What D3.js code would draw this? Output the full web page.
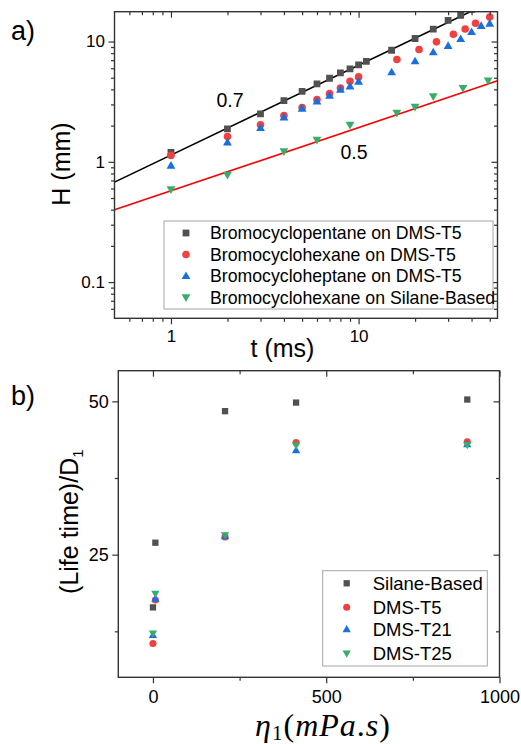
<!DOCTYPE html>
<html>
<head>
<meta charset="utf-8">
<script src="https://cdn.jsdelivr.net/npm/d3@7"></script>
<style>
    body { margin: 0; background: #fff; }
    svg { display: block; font-family: "Liberation Sans", Arial, sans-serif; }
    .axis path { display: none; }
    .axis line { stroke: #333; stroke-width: 1.2; }
    .axis text { fill: #000; }
</style>
</head>
<body>
<div id="chart"></div>
<script>

// ---- panel a) : H vs t (log-log) ----
var seriesNamesA = ["Bromocyclopentane on DMS-T5", "Bromocyclohexane on DMS-T5",
    "Bromocycloheptane on DMS-T5", "Bromocyclohexane on Silane-Based"];

var pentaneT5 = [[1,1.20],[2,1.88],[3,2.50],[4,3.22],[5,3.85],[6,4.44],[7,4.95],[8,5.48],[9,5.92],
    [10,6.39],[11,6.85],[15,8.46],[20,10.6],[25,12.7],[30,15.0],[35,16.5],[40,18.5]];
var hexaneT5 = [[1,1.13],[2,1.62],[3,2.03],[4,2.43],[5,2.83],[6,3.29],[7,3.69],[8,4.11],[9,4.67],
    [10,5.08],[16,7.08],[21,8.58],[26,9.94],[32,11.5],[37,12.7],[42,14.2],[50,16.0]];
var heptaneT5 = [[1,0.93],[2,1.45],[3,1.91],[4,2.34],[5,2.77],[6,3.18],[7,3.55],[8,3.98],[9,4.24],
    [10,4.64],[15,5.55],[20,6.85],[25,8.14],[30,9.21],[35,10.5],[40,12.0],[45,13.5],[50,14.1]];
var hexaneSilane = [[1,0.59],[2,0.78],[4,1.22],[6,1.52],[9,2.03],[16,2.55],[20,2.86],[25,3.50],
    [36,4.11],[49,4.73]];

// fitted power laws, drawn between two end points
var fitSlope07 = [[0.5,0.678],[55,22.7]];
var fitSlope05 = [[0.5,0.399],[55,4.71]];
var fitLabels = ["0.7", "0.5"];

var tDomain = [0.5, 55];
var hDomain = [0.05, 17.7];
var tMajor = [1, 10];
var tMinor = [0.6,0.7,0.8,0.9,2,3,4,5,6,7,8,9,20,30,40,50];
var hMajor = [0.1, 1, 10];
var hMinor = [0.06,0.07,0.08,0.09,0.2,0.3,0.4,0.5,0.6,0.7,0.8,0.9,2,3,4,5,6,7,8,9];

// ---- panel b) : lifetime vs viscosity ----
var seriesNamesB = ["Silane-Based", "DMS-T5", "DMS-T21", "DMS-T25"];
var silaneB = [[7,26.95],[0,16.4],[208,48.4],[413,49.8],[907,50.3]];
var dmsT5 = [[0,10.5],[7,17.6],[208,27.9],[413,43.3],[907,43.4]];
var dmsT21 = [[0,11.9],[7,17.8],[208,28.0],[413,42.0],[907,43.0]];
var dmsT25 = [[0,12.15],[7,18.65],[208,28.2],[413,42.8],[907,42.9]];

var etaDomain = [-100, 1000];
var lifeDomain = [5, 55];
var etaMajor = [0, 500, 1000];
var etaMinor = [250, 750];
var lifeMajor = [25, 50];
var lifeMinor = [12.5, 37.5];

var colors = ["#515151", "#f14040", "#1a6fdf", "#37ad6b"];
var shapes = ["square", "circle", "up", "down"];

var svg = d3.select("#chart").append("svg")
    .attr("width", 521)
    .attr("height", 744);

// marker path centred on 0,0
function markerPath(shape, s) {
    if (shape === "square") return "M" + (-s/2) + "," + (-s/2) + "h" + s + "v" + s + "h" + (-s) + "Z";
    if (shape === "circle") { var r = s/2 + 0.4; return d3.symbol(d3.symbolCircle, Math.PI*r*r)(); }
    var w = s + 2, h = w * 0.87;
    if (shape === "up") return "M0," + (-h*0.6) + "L" + (w/2) + "," + (h*0.4) + "L" + (-w/2) + "," + (h*0.4) + "Z";
    return "M0," + (h*0.6) + "L" + (w/2) + "," + (-h*0.4) + "L" + (-w/2) + "," + (-h*0.4) + "Z";
}

function drawFrame(g, x, y, xMajor, xMinor, yMajor, yMinor, width, height, xFmt, yFmt, fs, xPad, yPad) {
    // bottom / left: outward ticks with labels
    g.append("g").attr("class", "axis").attr("transform", "translate(0," + height + ")")
        .call(d3.axisBottom(x).tickValues(xMajor).tickSize(6).tickPadding(xPad).tickFormat(xFmt))
        .selectAll("text").style("font-size", fs + "px").style("font-family", "Liberation Sans");
    g.append("g").attr("class", "axis").attr("transform", "translate(0," + height + ")")
        .call(d3.axisBottom(x).tickValues(xMinor).tickSize(3.5).tickFormat(""));
    g.append("g").attr("class", "axis")
        .call(d3.axisLeft(y).tickValues(yMajor).tickSize(6).tickPadding(yPad).tickFormat(yFmt))
        .selectAll("text").style("font-size", fs + "px").style("font-family", "Liberation Sans");
    g.append("g").attr("class", "axis")
        .call(d3.axisLeft(y).tickValues(yMinor).tickSize(3.5).tickFormat(""));
    // top / right: mirrored, inward
    g.append("g").attr("class", "axis")
        .call(d3.axisTop(x).tickValues(xMajor).tickSize(-6).tickFormat(""));
    g.append("g").attr("class", "axis")
        .call(d3.axisTop(x).tickValues(xMinor).tickSize(-3.5).tickFormat(""));
    g.append("g").attr("class", "axis").attr("transform", "translate(" + width + ",0)")
        .call(d3.axisRight(y).tickValues(yMajor).tickSize(-6).tickFormat(""));
    g.append("g").attr("class", "axis").attr("transform", "translate(" + width + ",0)")
        .call(d3.axisRight(y).tickValues(yMinor).tickSize(-3.5).tickFormat(""));
    g.append("rect")
        .attr("width", width).attr("height", height)
        .attr("fill", "none").attr("stroke", "#333").attr("stroke-width", 1.4);
}

function drawLegend(g, names, x0, y0, w, h, rowY, symX, txtX, fs, msize) {
    var lg = g.append("g").attr("transform", "translate(" + x0 + "," + y0 + ")");
    lg.append("rect").attr("width", w).attr("height", h)
        .attr("fill", "#fff").attr("stroke", "#a6a6a6").attr("stroke-width", 1);
    names.forEach(function(n, i) {
        lg.append("path").attr("d", markerPath(shapes[i], msize))
            .attr("transform", "translate(" + symX + "," + rowY[i] + ")")
            .attr("fill", colors[i]);
        lg.append("text").attr("x", txtX).attr("y", rowY[i]).attr("dy", "0.36em")
            .style("font-size", fs + "px").text(n);
    });
}

// ================= panel a =================
(function() {
    var margin = {left: 114.5, top: 11.7};
    var width = 383, height = 306.6;
    var g = svg.append("g").attr("transform", "translate(" + margin.left + "," + margin.top + ")");

    var x = d3.scaleLog().domain(tDomain).range([0, width]);
    var y = d3.scaleLog().domain(hDomain).range([height, 0]);

    g.append("defs").append("clipPath").attr("id", "clipA")
        .append("rect").attr("width", width).attr("height", height);

    var plot = g.append("g").attr("clip-path", "url(#clipA)");

    var line = d3.line().x(function(d) { return x(d[0]); }).y(function(d) { return y(d[1]); });
    plot.append("path").datum(fitSlope07).attr("d", line)
        .attr("fill", "none").attr("stroke", "#000").attr("stroke-width", 1.6);
    plot.append("path").datum(fitSlope05).attr("d", line)
        .attr("fill", "none").attr("stroke", "#ff0000").attr("stroke-width", 1.6);

    [pentaneT5, hexaneT5, heptaneT5, hexaneSilane].forEach(function(ser, i) {
        plot.selectAll("path.s" + i).data(ser).enter().append("path")
            .attr("class", "s" + i)
            .attr("d", markerPath(shapes[i], 6.8))
            .attr("transform", function(d) { return "translate(" + x(d[0]) + "," + y(d[1]) + ")"; })
            .attr("fill", colors[i]);
    });

    drawFrame(g, x, y, tMajor, tMinor, hMajor, hMinor, width, height,
        function(d) { return d; }, function(d) { return d; }, 17, 5.5, 3.5);

    g.append("text").attr("x", 216.5 - margin.left).attr("y", 107.3 - margin.top)
        .style("font-size", "19.5px").text(fitLabels[0]);
    g.append("text").attr("x", 340.5 - margin.left).attr("y", 159.3 - margin.top)
        .style("font-size", "19.5px").text(fitLabels[1]);

    drawLegend(g, seriesNamesA, 164 - margin.left, 221 - margin.top, 329, 88,
        [12, 33.5, 55, 76.3], 22, 46, 17.7, 6.8);

    svg.append("text").attr("x", 282.5).attr("y", 357).attr("text-anchor", "middle")
        .style("font-size", "25px").text("t (ms)");
    svg.append("text").attr("transform", "translate(70,164) rotate(-90)").attr("text-anchor", "middle")
        .style("font-size", "25px").text("H (mm)");
    svg.append("text").attr("x", 11).attr("y", 40)
        .style("font-size", "27px").text("a)");
})();

// ================= panel b =================
(function() {
    var margin = {left: 118.3, top: 370.7};
    var width = 381.2, height = 306.6;
    var g = svg.append("g").attr("transform", "translate(" + margin.left + "," + margin.top + ")");

    var x = d3.scaleLinear().domain(etaDomain).range([0, width]);
    var y = d3.scaleLinear().domain(lifeDomain).range([height, 0]);

    [silaneB, dmsT5, dmsT21, dmsT25].forEach(function(ser, i) {
        g.selectAll("path.b" + i).data(ser).enter().append("path")
            .attr("class", "b" + i)
            .attr("d", markerPath(shapes[i], 6.3))
            .attr("transform", function(d) { return "translate(" + x(d[0]) + "," + y(d[1]) + ")"; })
            .attr("fill", colors[i]);
    });

    drawFrame(g, x, y, etaMajor, etaMinor, lifeMajor, lifeMinor, width, height,
        function(d) { return d; }, function(d) { return d; }, 18, 6.5, 3.5);

    drawLegend(g, seriesNamesB, 322.7 - margin.left, 570.7 - margin.top, 164.6, 95.3,
        [12.6, 36.6, 58.6, 82.6], 24, 50, 18.5, 6.3);

    var yt = svg.append("text").attr("transform", "translate(78,521.7) rotate(-90)")
        .attr("text-anchor", "middle").style("font-size", "25px");
    yt.append("tspan").text("(Life time)/D");
    yt.append("tspan").attr("dy", "0.3em").style("font-size", "15px").text("1");

    var xt = svg.append("text").attr("x", 323).attr("y", 736).attr("text-anchor", "middle")
        .style("font-family", "'Liberation Serif', serif").style("font-size", "32px")
        .style("letter-spacing", "1px");
    xt.append("tspan").style("font-style", "italic").text("η");
    xt.append("tspan").attr("dy", "0.2em").style("font-size", "21px").text("1");
    xt.append("tspan").attr("dy", "-0.13em").text("(");
    xt.append("tspan").style("font-style", "italic").text("mPa");
    xt.append("tspan").text(".");
    xt.append("tspan").style("font-style", "italic").text("s");
    xt.append("tspan").text(")");

    svg.append("text").attr("x", 11).attr("y", 405)
        .style("font-size", "27px").text("b)");
})();

</script>
</body>
</html>
